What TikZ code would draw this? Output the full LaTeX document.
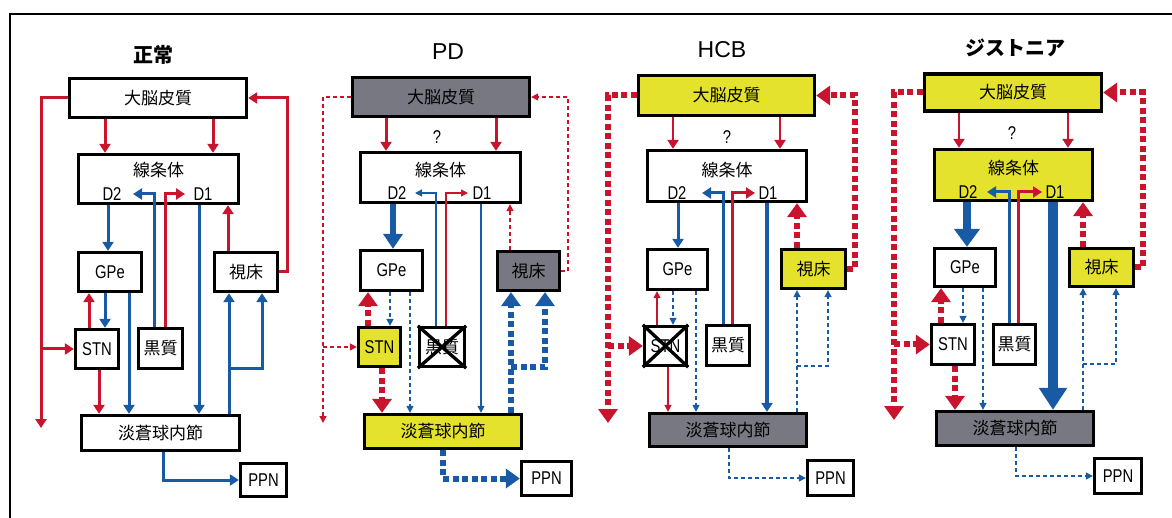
\documentclass[tikz,border=0pt]{standalone}
\usepackage{fontspec}
\setmainfont{Liberation Sans}[FakeStretch=0.8]
\newfontfamily\jp{Noto Sans CJK JP}
\newfontfamily\ttl{Liberation Sans}
\usetikzlibrary{arrows.meta}
\definecolor{cred}{RGB}{200,20,45}
\definecolor{cblue}{RGB}{25,90,165}
\definecolor{yel}{RGB}{228,226,45}
\definecolor{gry}{RGB}{120,120,130}
\tikzset{
 box/.style={draw=black, line width=3.3pt, fill=white, inner sep=0pt},
 yel/.style={fill=yel}, gry/.style={fill=gry},
 jt/.style={font=\jp\fontsize{17}{17}\selectfont},
 lt/.style={font=\fontsize{18.5}{18.5}\selectfont},
 jtitle/.style={font=\jp\bfseries\fontsize{20}{20}\selectfont},
 ltitle/.style={font=\ttl\fontsize{23}{23}\selectfont},
 med/.style={line width=3pt, -{Triangle[length=9pt,width=11pt]}},
 thn/.style={line width=1.4pt, -{Triangle[length=7pt,width=7pt]}},
 dsh/.style={line width=1.5pt, dash pattern=on 4pt off 3pt, -{Triangle[length=7pt,width=7pt]}},
 dot/.style={line width=6pt, dash pattern=on 6pt off 3.5pt, -{Triangle[length=14pt,width=19pt]}},
 thk/.style={line width=6.5pt, -{Triangle[length=15pt,width=19pt]}},
 R/.style={draw=cred}, B/.style={draw=cblue},
 crossx/.style={line width=3.3pt}
}
\begin{document}
\begin{tikzpicture}[x=1pt,y=-1pt]
\useasboundingbox (0,0) rectangle (1172,518);
\fill[white] (0,0) rectangle (1172,518);
\draw[line width=1.2pt] (10,518) -- (10,14) -- (1172,14);

% ================= Panel 1: normal =================
\node[jtitle] (t1) at (153,55) {正常};
\node[box,jt,minimum width=177pt,minimum height=39pt] (ctx1) at (158,98) {大脳皮質};
\node[box,minimum width=160pt,minimum height=49pt] (str1) at (158.5,179) {};
\node[jt] (str1t) at (158.5,170) {線条体};
\node[lt] (d2a) at (112,194) {D2};
\node[lt] (d1a) at (203,194) {D1};
\node[box,lt,minimum width=63pt,minimum height=39pt] (gpe1) at (110,272) {GPe};
\node[box,jt,minimum width=63pt,minimum height=39pt] (th1) at (246,272) {視床};
\node[box,lt,minimum width=43pt,minimum height=39pt] (stn1) at (97,349) {STN};
\node[box,jt,minimum width=44pt,minimum height=40pt] (sn1) at (160.5,348.5) {黒質};
\node[box,jt,minimum width=158pt,minimum height=35pt] (gpi1) at (160.5,433) {淡蒼球内節};
\node[box,lt,minimum width=46pt,minimum height=33pt] (ppn1) at (263.5,480) {PPN};
\coordinate (l1) at (41,428);
\coordinate (d2e1) at (133,194);
\coordinate (d1e1) at (185,194);
\draw[R,med] (ctx1.south -| 105,0) -- (str1.north -| 105,0);
\draw[R,med] (ctx1.south -| 213,0) -- (str1.north -| 213,0);
\draw[R,med] (ctx1.west) -| (l1);
\draw[R,med] (stn1.west -| l1) -- (stn1.west);
\draw[R,med] (th1.east) -| (ctx1.east -| 287,0) -- (ctx1.east);
\draw[R,med] (sn1.north -| 165,0) |- (d1e1);
\draw[B,med] (sn1.north -| 154,0) |- (d2e1);
\draw[R,med] (th1.north -| 228,0) -- (str1.south -| 228,0);
\draw[B,med] (str1.south -| 108,0) -- (gpe1.north -| 108,0);
\draw[B,med] (str1.south -| 199,0) -- (gpi1.north -| 199,0);
\draw[R,med] (stn1.north -| 89,0) -- (gpe1.south -| 89,0);
\draw[B,med] (gpe1.south -| 105,0) -- (stn1.north -| 105,0);
\draw[B,med] (gpe1.south -| 129,0) -- (gpi1.north -| 129,0);
\draw[R,med] (stn1.south -| 99,0) -- (gpi1.north -| 99,0);
\draw[B,med] (gpi1.north -| 229,0) -- (th1.south -| 229,0);
\draw[B,med] (229,368) -| (th1.south -| 262,0);
\draw[B,med] (gpi1.south -| 163,0) |- (ppn1.west);

% ================= Panel 2: PD =================
\node[ltitle] (t2) at (448,52) {PD};
\node[box,gry,jt,minimum width=177pt,minimum height=39pt] (ctx2) at (441,97) {大脳皮質};
\node[lt] (q2) at (437,137) {?};
\node[box,minimum width=160pt,minimum height=50pt] (str2) at (440.5,177.5) {};
\node[jt] (str2t) at (440.5,170) {線条体};
\node[lt] (d2b) at (397,193) {D2};
\node[lt] (d1b) at (482,193) {D1};
\node[box,lt,minimum width=62pt,minimum height=40pt] (gpe2) at (391.5,270.5) {GPe};
\node[box,gry,jt,minimum width=62pt,minimum height=39pt] (th2) at (528.5,271) {視床};
\node[box,yel,lt,minimum width=42pt,minimum height=39pt] (stn2) at (379.5,347) {STN};
\node[box,jt,minimum width=45pt,minimum height=39pt] (sn2) at (442,347) {黒質};
\node[box,yel,jt,minimum width=157pt,minimum height=34pt] (gpi2) at (443,431.5) {淡蒼球内節};
\node[box,lt,minimum width=50pt,minimum height=34pt] (ppn2) at (546.5,478.5) {PPN};
\draw[crossx] (sn2.south west) -- (sn2.north east) (sn2.north west) -- (sn2.south east);
\coordinate (l2) at (323,423);
\coordinate (d2e2) at (415,193);
\coordinate (d1e2) at (468,193);
\draw[R,med] (ctx2.south -| 386,0) -- (str2.north -| 386,0);
\draw[R,med] (ctx2.south -| 496,0) -- (str2.north -| 496,0);
\draw[R,dsh] (ctx2.west) -| (l2);
\draw[R,dsh] (stn2.west -| l2) -- (stn2.west);
\draw[R,dsh] (th2.east) -| (ctx2.east -| 568,0) -- (ctx2.east);
\draw[B,thn] (sn2.north -| 436,0) |- (d2e2);
\draw[R,thn] (sn2.north -| 446,0) |- (d1e2);
\draw[B,thn] (str2.south -| 481,0) -- (gpi2.north -| 481,0);
\draw[R,dsh] (th2.north -| 510,0) -- (str2.south -| 510,0);
\draw[B,thk] (str2.south -| 393,0) -- (gpe2.north -| 393,0);
\draw[R,dot] (stn2.north -| 368,0) -- (gpe2.south -| 368,0);
\draw[B,dsh] (gpe2.south -| 390,0) -- (stn2.north -| 390,0);
\draw[B,dsh] (gpe2.south -| 410,0) -- (gpi2.north -| 410,0);
\draw[R,dot] (stn2.south -| 382,0) -- (gpi2.north -| 382,0);
\draw[B,dot] (gpi2.north -| 511,0) -- (th2.south -| 511,0);
\draw[B,dot] (511,367) -| (th2.south -| 545,0);
\draw[B,dot] (gpi2.south -| 443,0) |- (ppn2.west);

% ================= Panel 3: HCB =================
\node[ltitle] (t3) at (722,50) {HCB};
\node[box,yel,jt,minimum width=176pt,minimum height=40pt] (ctx3) at (726.5,95.5) {大脳皮質};
\node[lt] (q3) at (727,137) {?};
\node[box,minimum width=159pt,minimum height=51pt] (str3) at (727,176) {};
\node[jt] (str3t) at (727,170) {線条体};
\node[lt] (d2c) at (677,193) {D2};
\node[lt] (d1c) at (768,193) {D1};
\node[box,lt,minimum width=60pt,minimum height=40pt] (gpe3) at (677.5,269.5) {GPe};
\node[box,yel,jt,minimum width=64pt,minimum height=39pt] (th3) at (813.5,269) {視床};
\node[box,lt,minimum width=42pt,minimum height=39pt] (stn3) at (665.5,346) {STN};
\node[box,jt,minimum width=43pt,minimum height=40pt] (sn3) at (728,345.5) {黒質};
\node[box,gry,jt,minimum width=157pt,minimum height=33pt] (gpi3) at (728,430) {淡蒼球内節};
\node[box,lt,minimum width=46pt,minimum height=35pt] (ppn3) at (830.5,478) {PPN};
\draw[crossx] (stn3.south west) -- (stn3.north east) (stn3.north west) -- (stn3.south east);
\coordinate (l3) at (608,423);
\coordinate (d2e3) at (702,193);
\coordinate (d1e3) at (755,193);
\draw[R,med,line width=2.4pt] (ctx3.south -| 673,0) -- (str3.north -| 673,0);
\draw[R,med,line width=2.4pt] (ctx3.south -| 780,0) -- (str3.north -| 780,0);
\draw[R,dot] (ctx3.west) -| (l3);
\draw[R,dot] (stn3.west -| l3) -- (stn3.west);
\draw[R,dot] (th3.east) -| (ctx3.east -| 855,0) -- (ctx3.east);
\draw[B,med] (sn3.north -| 723,0) |- (d2e3);
\draw[R,med] (sn3.north -| 732,0) |- (d1e3);
\draw[B,med,line width=3.4pt] (str3.south -| 767,0) -- (gpi3.north -| 767,0);
\draw[R,dot] (th3.north -| 797,0) -- (str3.south -| 797,0);
\draw[B,med] (str3.south -| 678,0) -- (gpe3.north -| 678,0);
\draw[R,thn] (stn3.north -| 657,0) -- (gpe3.south -| 657,0);
\draw[B,dsh] (gpe3.south -| 673,0) -- (stn3.north -| 673,0);
\draw[B,dsh] (gpe3.south -| 696,0) -- (gpi3.north -| 696,0);
\draw[R,thn] (stn3.south -| 668,0) -- (gpi3.north -| 668,0);
\draw[B,dsh] (gpi3.north -| 797,0) -- (th3.south -| 797,0);
\draw[B,dsh] (797,366) -| (th3.south -| 828,0);
\draw[B,dsh] (gpi3.south -| 729,0) |- (ppn3.west);

% ================= Panel 4: dystonia =================
\node[jtitle] (t4) at (1015,48) {ジストニア};
\node[box,yel,jt,minimum width=177pt,minimum height=37pt] (ctx4) at (1013,92.5) {大脳皮質};
\node[lt] (q4) at (1012,133) {?};
\node[box,yel,minimum width=158pt,minimum height=51pt] (str4) at (1013.5,175) {};
\node[jt] (str4t) at (1013.5,168) {線条体};
\node[lt] (d2d) at (968,192) {D2};
\node[lt] (d1d) at (1055,192) {D1};
\node[box,lt,minimum width=61pt,minimum height=38pt] (gpe4) at (965,267.5) {GPe};
\node[box,yel,jt,minimum width=64pt,minimum height=38pt] (th4) at (1101.5,267.5) {視床};
\node[box,lt,minimum width=43pt,minimum height=40pt] (stn4) at (953,344.5) {STN};
\node[box,jt,minimum width=42pt,minimum height=40pt] (sn4) at (1014.5,344.5) {黒質};
\node[box,gry,jt,minimum width=157pt,minimum height=34pt] (gpi4) at (1015,428.5) {淡蒼球内節};
\node[box,lt,minimum width=47pt,minimum height=35pt] (ppn4) at (1118,476) {PPN};
\coordinate (l4) at (894,420);
\coordinate (d2e4) at (987,192);
\coordinate (d1e4) at (1042,192);
\draw[R,med,line width=2.4pt] (ctx4.south -| 959,0) -- (str4.north -| 959,0);
\draw[R,med,line width=2.4pt] (ctx4.south -| 1068,0) -- (str4.north -| 1068,0);
\draw[R,dot] (ctx4.west) -| (l4);
\draw[R,dot] (stn4.west -| l4) -- (stn4.west);
\draw[R,dot] (th4.east) -| (ctx4.east -| 1143,0) -- (ctx4.east);
\draw[B,med] (sn4.north -| 1009,0) |- (d2e4);
\draw[R,med] (sn4.north -| 1018,0) |- (d1e4);
\draw[B,line width=9.5pt,-{Triangle[length=22pt,width=27pt]}] (str4.south -| 1053,0) -- (gpi4.north -| 1053,0);
\draw[R,dot] (th4.north -| 1083,0) -- (str4.south -| 1083,0);
\draw[B,line width=8.5pt,-{Triangle[length=18pt,width=25pt]}] (str4.south -| 967,0) -- (gpe4.north -| 967,0);
\draw[R,dot] (stn4.north -| 941,0) -- (gpe4.south -| 941,0);
\draw[B,dsh] (gpe4.south -| 963,0) -- (stn4.north -| 963,0);
\draw[B,dsh] (gpe4.south -| 983,0) -- (gpi4.north -| 983,0);
\draw[R,dot] (stn4.south -| 955,0) -- (gpi4.north -| 955,0);
\draw[B,dsh] (gpi4.north -| 1083,0) -- (th4.south -| 1083,0);
\draw[B,dsh] (1083,364) -| (th4.south -| 1116,0);
\draw[B,dsh] (gpi4.south -| 1016,0) |- (ppn4.west);
\end{tikzpicture}
\end{document}
